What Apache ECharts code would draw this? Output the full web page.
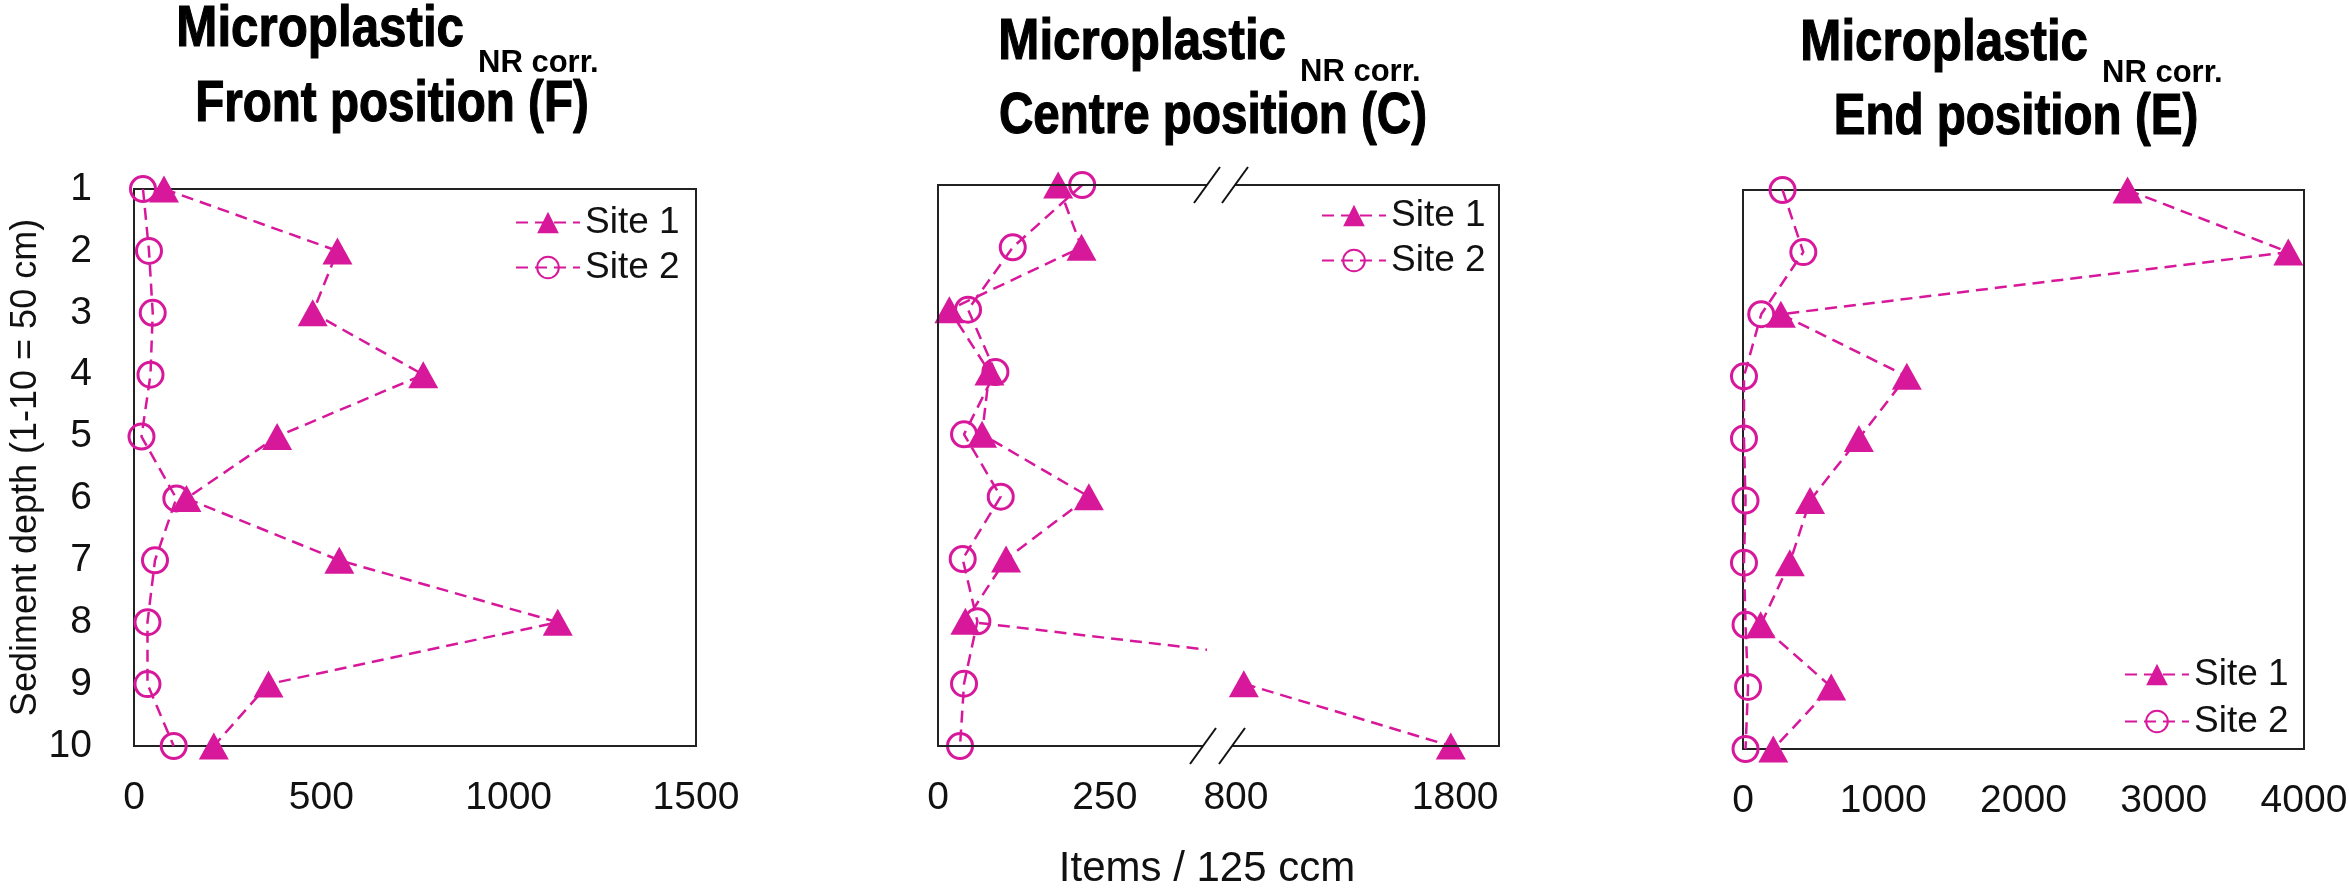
<!DOCTYPE html>
<html>
<head>
<meta charset="utf-8">
<script src="https://cdn.jsdelivr.net/npm/echarts@6/dist/echarts.min.js"></script>
<style>
  html, body { margin: 0; padding: 0; background: #fff; }
  #chart { width: 2349px; height: 889px; }
</style>
</head>
<body>
<div id="chart"></div>
<script>
// Sediment depth layers (1-10 = 50 cm)
const depths = [1, 2, 3, 4, 5, 6, 7, 8, 9, 10];

// Microplastic items / 125 ccm, NR corrected
const site1F = [80, 543, 477, 772, 382, 140, 548, 1131, 359, 213];
const site2F = [24, 40, 50, 44, 20, 113, 56, 36, 36, 106];
const site1C = [180, 215, 17, 77, 66, 226, 102, 41, 836, 1780];
const site2C = [216, 112, 45, 86, 39, 94, 37, 59, 39, 33];
const site1E = [2742, 3888, 270, 1168, 826, 478, 334, 126, 629, 216];
const site2E = [282, 430, 130, 7, 7, 18, 7, 18, 36, 18];

// Tick labels
const ticksF = [0, 500, 1000, 1500];
const ticksCLow = [0, 250];
const ticksCHigh = [800, 1800];
const ticksE = [0, 1000, 2000, 3000, 4000];

// Broken axis of the centre panel: lower and upper ranges
const rangeCLow = [0, 400];
const rangeCHigh = [700, 2000];

const COLOR = '#d8189b';
const INK = '#111';
const FONT = '"Liberation Sans", Arial, sans-serif';
const SQUEEZE_1 = 0.85;   // condensed look for the headings
const SQUEEZE_2 = 0.82;

// Plot boxes
const boxF = { left: 134, top: 189, width: 562, height: 557 };
const boxCLow = { left: 938, top: 185, width: 267, height: 561 };
const boxCHigh = { left: 1214, top: 185, width: 285, height: 561 };
const boxE = { left: 1743, top: 190, width: 561, height: 559 };
const boxCRight = boxCHigh.left + boxCHigh.width;
const breakTop = [1207, 1235];
const breakBottom = [1203, 1232];

function pairs(vals) {
  return vals.map((v, i) => (v == null ? '-' : [v, depths[i]]));
}

const lineStyle = { color: COLOR, width: 2.5, type: [12, 7] };

function site1Series(values, axis) {
  return {
    type: 'line', name: 'Site 1', xAxisIndex: axis, yAxisIndex: axis,
    data: pairs(values), symbol: 'triangle', symbolSize: [30, 27],
    itemStyle: { color: COLOR }, lineStyle: lineStyle,
    clip: true, animation: false, z: 4
  };
}
function site2Series(values, axis) {
  return {
    type: 'line', name: 'Site 2', xAxisIndex: axis, yAxisIndex: axis,
    data: pairs(values), symbol: 'circle', symbolSize: 25,
    itemStyle: { color: 'rgba(255,255,255,0)', borderColor: COLOR, borderWidth: 3 },
    lineStyle: lineStyle, clip: true, animation: false, z: 3
  };
}

function xAxis(grid, min, max, interval, labels) {
  return {
    gridIndex: grid, type: 'value', min: min, max: max, interval: interval,
    axisLine: { show: false }, axisTick: { show: false }, splitLine: { show: false },
    axisLabel: {
      fontSize: 39, color: INK, fontFamily: FONT, margin: 33,
      showMinLabel: true, showMaxLabel: true, hideOverlap: false,
      formatter: v => (labels.includes(v) ? String(v) : '')
    }
  };
}
function yAxis(grid, showLabels) {
  const ax = {
    gridIndex: grid, type: 'value', min: 1, max: 10, interval: 1, inverse: true,
    axisLine: { show: false }, axisTick: { show: false }, splitLine: { show: false },
    axisLabel: { show: showLabels, fontSize: 39, color: INK, fontFamily: FONT, margin: 42 }
  };
  if (showLabels) {
    ax.name = 'Sediment depth (1-10 = 50 cm)';
    ax.nameLocation = 'middle';
    ax.nameGap = 90;
    ax.nameRotate = 90;
    ax.nameMoveOverlap = false;
    ax.nameTextStyle = { fontSize: 36, color: INK, fontFamily: FONT };
  }
  return ax;
}

function legend(left, top, rowHeight) {
  return {
    data: ['Site 1', 'Site 2'], orient: 'vertical', left: left, top: top,
    padding: 0, itemGap: 0, itemWidth: 64, itemHeight: 27, selectedMode: false,
    textStyle: { fontSize: 37, lineHeight: rowHeight, color: INK, fontFamily: FONT }
  };
}

function heading(x, y, text, size, align, squeeze, weight) {
  return {
    type: 'text', x: x, y: y, scaleX: squeeze, scaleY: 1,
    style: {
      text: text, fontSize: size, fontWeight: 'bold', fontFamily: FONT,
      fill: '#000', stroke: '#000', lineWidth: weight,
      align: align, verticalAlign: 'middle'
    }
  };
}

function titleBlock(splitX, centerX, y1, y2, y3, second) {
  return [
    heading(splitX - 6, y1, 'Microplastic', 58, 'right', SQUEEZE_1, 1.2),
    heading(splitX + 8, y2, 'NR corr.', 31, 'left', 1, 0),
    heading(centerX, y3, second, 58, 'center', SQUEEZE_2, 1.2)
  ];
}

function seg(x1, y1, x2, y2) {
  return { type: 'line', shape: { x1, y1, x2, y2 }, style: { stroke: '#111', lineWidth: 2 }, z: 10 };
}

const cTop = boxCLow.top, cBottom = boxCLow.top + boxCLow.height;

const graphic = [
  ...titleBlock(470, 392, 30, 63, 105, 'Front position (F)'),
  ...titleBlock(1292, 1213, 43, 72, 117, 'Centre position (C)'),
  ...titleBlock(2094, 2016, 44, 73, 118, 'End position (E)'),
  // centre panel frame with axis break
  { type: 'polyline', shape: { points: [[breakTop[0], cTop], [boxCLow.left, cTop], [boxCLow.left, cBottom], [breakBottom[0], cBottom]] }, style: { stroke: '#222', lineWidth: 2, fill: null }, z: 10 },
  { type: 'polyline', shape: { points: [[breakTop[1], cTop], [boxCRight, cTop], [boxCRight, cBottom], [breakBottom[1], cBottom]] }, style: { stroke: '#222', lineWidth: 2, fill: null }, z: 10 },
  seg(breakTop[0] - 13, cTop + 18, breakTop[0] + 13, cTop - 18),
  seg(breakTop[1] - 13, cTop + 18, breakTop[1] + 13, cTop - 18),
  seg(breakBottom[0] - 13, cBottom + 18, breakBottom[0] + 13, cBottom - 18),
  seg(breakBottom[1] - 13, cBottom + 18, breakBottom[1] + 13, cBottom - 18),
  { type: 'text', x: 1207, y: 869, style: { text: 'Items / 125 ccm', fontSize: 42, fontFamily: FONT, fill: INK, align: 'center', verticalAlign: 'middle' } }
];

const gridBase = { containLabel: false, outerBoundsMode: 'none' };
const boxed = { show: true, borderColor: '#222', borderWidth: 2, backgroundColor: 'transparent' };

const option = {
  backgroundColor: '#fff',
  animation: false,
  grid: [
    Object.assign({}, gridBase, boxed, boxF),
    Object.assign({}, gridBase, boxCLow),
    Object.assign({}, gridBase, boxCHigh),
    Object.assign({}, gridBase, boxed, boxE)
  ],
  xAxis: [
    xAxis(0, 0, 1500, 500, ticksF),
    xAxis(1, rangeCLow[0], rangeCLow[1], 250, ticksCLow),
    xAxis(2, rangeCHigh[0], rangeCHigh[1], 100, ticksCHigh),
    xAxis(3, 0, 4000, 1000, ticksE)
  ],
  yAxis: [yAxis(0, true), yAxis(1, false), yAxis(2, false), yAxis(3, false)],
  legend: [legend(515, 200, 45), legend(1321, 193, 45), legend(2124, 651, 47)],
  series: [
    site1Series(site1F, 0), site2Series(site2F, 0),
    site1Series(site1C, 1), site2Series(site2C, 1),
    site1Series(site1C.map(v => (v >= rangeCHigh[0] ? v : null)), 2),
    site1Series(site1E, 3), site2Series(site2E, 3)
  ],
  graphic: graphic
};

const chart = echarts.init(document.getElementById('chart'), null, { renderer: 'canvas' });
chart.setOption(option);
</script>
</body>
</html>
